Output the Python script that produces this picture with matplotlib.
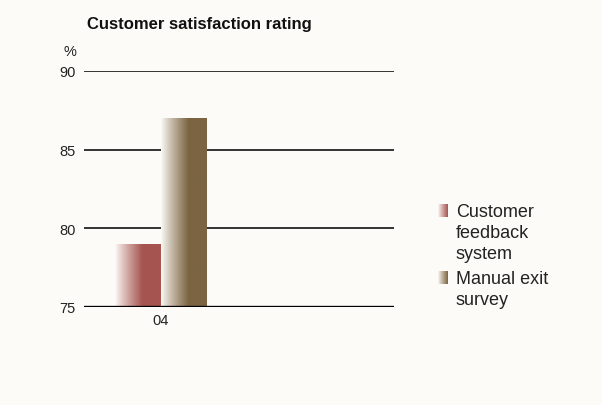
"""Customer satisfaction rating bar chart with faded-edge bars."""

import matplotlib.pyplot as plt
import numpy as np
from matplotlib.colors import to_rgb

categories = ["04"]
series_names = ["Customer\nfeedback\nsystem", "Manual exit\nsurvey"]
series_values = [[79], [87]]
series_colors = ["#a6544f", "#7c6442"]
yticks = [75, 80, 85, 90]

BG = "#fcfbf7"
BAR_W = 0.3


def gradient_rgba(color, n=200, fade=0.6):
    """Horizontal ramp from the background into the bar colour."""
    c0 = np.array(to_rgb(BG))
    c1 = np.array(to_rgb(color))
    t = np.clip(np.linspace(0, 1, n) / fade, 0, 1)
    t = t ** 0.9
    row = c0[None, :] * (1 - t[:, None]) + c1[None, :] * t[:, None]
    return row[None, :, :]


plt.rcParams["font.family"] = ["Liberation Sans", "DejaVu Sans"]

fig = plt.figure(figsize=(6.02, 4.06), dpi=100, facecolor=BG)
ax = fig.add_axes([0.1395, 0.2414, 0.515, 0.5813])
ax.set_facecolor(BG)

x = np.arange(len(categories))
for i, (vals, color) in enumerate(zip(series_values, series_colors)):
    for xi, v in zip(x, vals):
        x0 = xi - BAR_W + i * BAR_W
        ax.imshow(gradient_rgba(color), extent=(x0, x0 + BAR_W, yticks[0], v),
                  aspect="auto", zorder=3, interpolation="bilinear")

for y in yticks[1:]:
    ax.axhline(y, color="#111111", linewidth=1.2, zorder=1)
ax.axhline(yticks[0], color="#000000", linewidth=2.4, zorder=4)

ax.set_xlim(-0.502, 1.52)
ax.set_ylim(yticks[0], yticks[-1])
ax.set_yticks(yticks)
ax.set_yticklabels([str(t) for t in yticks], fontsize=10.5, color="#222222")
ax.set_xticks(x)
ax.set_xticklabels(categories, fontsize=10.5, color="#222222")
ax.tick_params(length=0, pad=6)
ax.tick_params(axis="x", pad=4)
for s in ax.spines.values():
    s.set_visible(False)

fig.text(70 / 602, 1 - 52 / 406, "%", fontsize=10.5, color="#222222",
         ha="center", va="center")
fig.text(87 / 602, 1 - 24 / 406, "Customer satisfaction rating",
         fontweight="bold", fontsize=12, ha="left", va="center", color="#111111")

# legend: gradient swatches plus wrapped labels
legend_tops = [205, 272]
for top, name, color in zip(legend_tops, series_names, series_colors):
    sw = fig.add_axes([438 / 602, 1 - (top + 13) / 406, 10 / 602, 13 / 406])
    sw.imshow(gradient_rgba(color, fade=1.0), aspect="auto", interpolation="bilinear")
    sw.axis("off")
    fig.text(456 / 602, 1 - (top - 1) / 406, name, fontsize=13, color="#222222",
             ha="left", va="top", linespacing=1.32)

fig.savefig("out.png", dpi=100, facecolor=BG)
